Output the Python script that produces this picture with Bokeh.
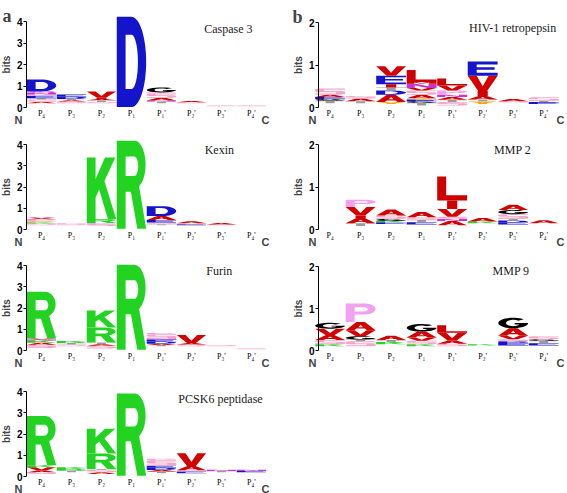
import numpy as np
from bokeh.plotting import figure
from bokeh.models import Label, FixedTicker, LinearAxis, ColumnDataSource
from bokeh.core.properties import value
from bokeh.layouts import row, column
from bokeh.embed import file_html
from bokeh.resources import INLINE

# ---------------- data ----------------
positions = [1, 2, 3, 4, 5, 6, 7, 8]
position_labels = ["P\u2084", "P\u2083", "P\u2082", "P\u2081", "P\u2081'", "P\u2082'", "P\u2083'", "P\u2084'"]

# Each stack: bottom -> top, "<letter><bits>"; "_" = residual of letters too small to see
caspase3 = [
    "_.2 A.07 S.10 T.06 E.12 P.06 N.07 Q.07 D.55",
    "_.2 S.08 A.06 T.06 D.10 E.10",
    "_.2 S.06 T.08 A.06 I.05 V.30",
    "_.02 D4.2",
    "_.2 T.08 N.05 A.12 S.20 P.05 G.23",
    "_.2 S.05 A.05",
    "_.06 S.03",
    "_.06 S.03",
]
kexin = [
    "_.2 S.08 K.05 F.05 P.10 A.05 V.04",
    "_.2 S.05 P.05",
    "_.16 S.10 P.05 R.18 K2.9",
    "_.03 R4.15",
    "_.2 T.05 S.08 E.12 A.18 D.47",
    "_.2 E.05 S.04 A.10",
    "_.2 S.03 A.08",
    "_.04",
]
furin = [
    "_.12 S.15 A.10 K.10 N.05 V.05 R2.2",
    "_.2 S.08 T.07 R.05 K.05",
    "_.1 S.12 A.08 T.08 R.70 K.80",
    "_.03 R4.0",
    "_.2 T.06 A.06 D.10 E.10 N.05 S.20 P.05",
    "_.2 S.08 A.07 V.38",
    "_.2 S.05",
    "_.06 S.03",
]
pcsk6 = [
    "_.12 S.08 A.08 V.15 K.10 R2.32",
    "_.2 T.08 R.07 K.08",
    "_.12 A.08 S.12 T.03 R.73 K1.17",
    "_.03 R3.88",
    "_.15 T.08 A.08 D.10 E.10 S.25 P.08",
    "_.15 E.08 S.07 A.20 V.60",
    "_.2 T.06 N.06",
    "_.2 E.06 N.06",
]
hiv1 = [
    "_.1 T.06 G.04 E.05 A.05 S.15",
    "_.1 T.05 A.06 S.06",
    "_.08 Y.05 A.17 D.10 T.07 I.08 E.20 V.22",
    "_.05 T.06 G.04 E.04 Y.03 A.08 S.10 V.06 N.10 M.04 L.28",
    "_.05 S.08 T.05 A.07 N.05 P.10 V.12 L.16",
    "_.08 Y.06 T.05 A.08 I.12 V.36 E.33",
    "_.12 S.03 A.05",
    "_.08 E.05 T.03 S.08",
]
mmp2 = [
    "_.02",
    "_.08 T.07 A.12 I.06 V.20 P.17",
    "_.13 E.04 K.03 G.05 S.08 A.14",
    "_.12 E.05 T.06 S.06 A.12",
    "_.1 A.10 N.05 S.05 V.18 I.20 L.57",
    "_.15 K.04 A.08",
    "_.12 E.05 D.04 T.05 S.10 G.10 A.12",
    "_.15 A.07",
]
mmp9 = [
    "_.1 K.05 S.10 A.12 V.15 G.14",
    "_.1 S.12 T.04 G.08 V.14 A.20 P.44",
    "_.15 K.05 T.05 A.10",
    "_.1 K.05 S.08 V.08 A.14 G.18",
    "_.1 S.06 A.08 V.18 L.18",
    "_.12 K.03",
    "_.12 E.06 D.04 S.05 V.08 A.18 G.25",
    "_.12 E.05 T.06 G.04 S.07",
]
left_titles = ["Caspase 3", "Kexin", "Furin", "PCSK6 peptidase"]
right_titles = ["HIV-1 retropepsin", "MMP 2", "MMP 9"]

aa_colors = {
    "D": "#1414cc", "E": "#1414cc",
    "K": "#22d322", "R": "#22d322", "H": "#7a7aff",
    "G": "#000000",
    "A": "#d40000", "V": "#d40000", "L": "#cc0000", "I": "#d40000", "M": "#d40000",
    "F": "#ff9900", "W": "#ff9900", "Y": "#ffa500",
    "P": "#f2a0f0", "S": "#f4a6c8", "T": "#9a9a9a",
    "N": "#cc33cc", "Q": "#cc33cc", "C": "#e8c800",
}

# ---------------- letter outlines (unit box) ----------------
def arc(cx, cy, rx, ry, a0, a1, n=24):
    t = np.radians(np.linspace(a0, a1, n))
    return list(zip(cx + rx * np.cos(t), cy + ry * np.sin(t)))

SHAPES = {
    "A": [[[(0, 0), (0.28, 0), (0.36, 0.22), (0.64, 0.22), (0.72, 0), (1, 0), (0.64, 1), (0.36, 1)],
           [(0.42, 0.38), (0.58, 0.38), (0.5, 0.68)]]],
    "C": [[arc(.5, .5, .5, .5, 40, 320) + arc(.5, .5, .24, .3, 320, 40)]],
    "D": [[[(0, 0), (0.5, 0)] + arc(.5, .5, .5, .5, -90, 90) + [(0, 1)],
           [(0.3, 0.2), (0.5, 0.2)] + arc(.5, .5, .22, .3, -90, 90) + [(0.3, 0.8)]]],
    "E": [[[(0, 0), (1, 0), (1, 0.2), (0.3, 0.2), (0.3, 0.42), (0.9, 0.42), (0.9, 0.6),
            (0.3, 0.6), (0.3, 0.8), (1, 0.8), (1, 1), (0, 1)]]],
    "F": [[[(0, 0), (0.3, 0), (0.3, 0.4), (0.85, 0.4), (0.85, 0.6), (0.3, 0.6), (0.3, 0.8),
            (1, 0.8), (1, 1), (0, 1)]]],
    "G": [[arc(.5, .5, .5, .5, 45, 360) + [(0.55, 0.5), (0.55, 0.35)] + arc(.5, .5, .24, .3, 330, 45)]],
    "H": [[[(0, 0), (0.3, 0), (0.3, 0.4), (0.7, 0.4), (0.7, 0), (1, 0), (1, 1), (0.7, 1),
            (0.7, 0.6), (0.3, 0.6), (0.3, 1), (0, 1)]]],
    "I": [[[(0.33, 0), (0.67, 0), (0.67, 1), (0.33, 1)]]],
    "K": [[[(0, 0), (0.3, 0), (0.3, 0.35), (0.42, 0.48), (0.72, 0), (1, 0), (0.6, 0.62),
            (0.97, 1), (0.62, 1), (0.3, 0.65), (0.3, 1), (0, 1)]]],
    "L": [[[(0, 0), (1, 0), (1, 0.22), (0.3, 0.22), (0.3, 1), (0, 1)]]],
    "M": [[[(0, 0), (0.25, 0), (0.25, 0.65), (0.42, 0.1), (0.58, 0.1), (0.75, 0.65), (0.75, 0),
            (1, 0), (1, 1), (0.7, 1), (0.5, 0.4), (0.3, 1), (0, 1)]]],
    "N": [[[(0, 0), (0.27, 0), (0.27, 0.6), (0.7, 0), (1, 0), (1, 1), (0.73, 1), (0.73, 0.4),
            (0.3, 1), (0, 1)]]],
    "P": [[[(0, 0), (0.3, 0), (0.3, 0.4), (0.62, 0.4)] + arc(.62, .7, .38, .3, -90, 90) + [(0, 1)],
           [(0.3, 0.57), (0.6, 0.57)] + arc(.6, .685, .14, .115, -90, 90) + [(0.3, 0.8)]]],
    "Q": [[arc(.5, .5, .5, .5, 0, 360), arc(.5, .5, .24, .3, 0, 360)],
          [[(0.55, 0.28), (0.78, 0.28), (1, 0), (0.78, 0)]]],
    "R": [[[(0, 0), (0.3, 0), (0.3, 0.42), (0.48, 0.42), (0.7, 0), (1, 0), (0.76, 0.48)]
           + arc(.6, .73, .38, .27, -50, 90) + [(0, 1)],
           [(0.3, 0.6), (0.6, 0.6)] + arc(.6, .71, .13, .11, -90, 90) + [(0.3, 0.82)]]],
    "S": [[[(0, 0), (0.85, 0), (1, 0.12), (1, 0.5), (0.9, 0.6), (0.3, 0.6), (0.3, 0.8), (1, 0.8),
            (1, 1), (0.15, 1), (0, 0.88), (0, 0.5), (0.1, 0.4), (0.7, 0.4), (0.7, 0.2), (0, 0.2)]]],
    "T": [[[(0.35, 0), (0.65, 0), (0.65, 0.8), (1, 0.8), (1, 1), (0, 1), (0, 0.8), (0.35, 0.8)]]],
    "V": [[[(0, 1), (0.3, 1), (0.5, 0.3), (0.7, 1), (1, 1), (0.65, 0), (0.35, 0)]]],
    "W": [[[(0, 1), (0.2, 0), (0.4, 0), (0.5, 0.55), (0.6, 0), (0.8, 0), (1, 1), (0.78, 1),
            (0.68, 0.45), (0.58, 1), (0.42, 1), (0.32, 0.45), (0.22, 1)]]],
    "Y": [[[(0.35, 0), (0.65, 0), (0.65, 0.45), (1, 1), (0.68, 1), (0.5, 0.68), (0.32, 1), (0, 1),
            (0.35, 0.45)]]],
}

LETTER_W = 0.98


def build_glyphs(stacks):
    xs, ys, cols = [], [], []
    for xc, stack in zip(positions, stacks):
        y0 = 0.0
        for tok in stack.split():
            letter, h = tok[0], float(tok[1:])
            if letter != "_":
                shape = SHAPES[letter]
                xs.append([[[xc - LETTER_W / 2 + px * LETTER_W for px, py in ring] for ring in poly] for poly in shape])
                ys.append([[[y0 + py * h for px, py in ring] for ring in poly] for poly in shape])
                cols.append(aa_colors[letter])
            y0 += h
    return xs, ys, cols


def make_panel(stacks, title, tx, ty, ymax, h, zero_px, top_px, width, xr, axis_x, n_x, c_x,
               tag=None, tag_x=0, tag_px=0):
    ppb = (zero_px - top_px) / ymax
    yr = (-(h - zero_px) / ppb, ymax + top_px / ppb)
    p = figure(width=width, height=h, x_range=xr, y_range=yr,
               output_backend="svg", toolbar_location=None,
               x_axis_location=None, y_axis_location=None,
               min_border_left=0, min_border_right=0, min_border_top=0, min_border_bottom=0)
    p.grid.visible = False
    p.outline_line_color = None
    xs, ys, cols = build_glyphs(stacks)
    p.multi_polygons(xs=xs, ys=ys, fill_color=cols, line_color=None)

    ya = LinearAxis(fixed_location=axis_x, ticker=FixedTicker(ticks=list(range(0, ymax + 1))),
                    bounds=(0, ymax), axis_label="bits")
    ya.axis_label_text_font = "Liberation Sans"
    ya.axis_label_text_font_style = "bold"
    ya.axis_label_text_font_size = "10px"
    ya.axis_label_standoff = 2
    ya.major_label_text_font = "Liberation Sans"
    ya.major_label_text_font_style = "bold"
    ya.major_label_text_font_size = "10px"
    ya.major_label_text_color = "black"
    ya.major_label_standoff = 1
    ya.major_tick_in = 0
    ya.major_tick_out = 3
    ya.minor_tick_line_color = None
    ya.axis_line_color = "black"
    p.add_layout(ya, "left")

    src = ColumnDataSource(dict(x=positions, y=[-5.5 / ppb] * len(positions), t=position_labels))
    p.text(x="x", y="y", text="t", source=src, text_font=value("Liberation Serif"),
           text_font_size="8px", text_align="center", text_baseline="middle", text_color="black")

    p.add_layout(Label(x=tx, y=ty, text=title, text_font="Liberation Serif", text_font_size="12px",
                       text_align="center", text_baseline="middle", text_color="#1a1a1a"))
    for lx, lt in ((n_x, "N"), (c_x, "C")):
        p.add_layout(Label(x=lx, y=-12 / ppb, text=lt, text_font="Liberation Sans", text_font_style="bold",
                           text_font_size="11px", text_align="center", text_baseline="middle"))
    if tag:
        p.add_layout(Label(x=tag_x, y=yr[1] - tag_px / ppb, text=tag, text_font="Liberation Serif",
                           text_font_style="bold", text_font_size="18px", text_align="left",
                           text_baseline="alphabetic"))
    return p


LEFT_W, RIGHT_W = 289, 278
row_h = [124, 122, 121, 126]
left_zero = [107, 105, 104, 109]
left_top = [21, 20, 19, 24]
right_zero = [107, 105, 104]
right_top = [22, 20, 20]

left_data = [caspase3, kexin, furin, pcsk6]
left_pos = [(7.23, 3.67), (6.93, 3.76), (6.93, 3.72), (6.97, 3.67)]
left = []
for k in range(4):
    left.append(make_panel(left_data[k], left_titles[k], left_pos[k][0], left_pos[k][1], 4,
                           row_h[k], left_zero[k], left_top[k], LEFT_W, (-0.367, 9.27), 0.5, 0.233, 8.47,
                           "a" if k == 0 else None, -0.3, 15.5))

right_data = [hiv1, mmp2, mmp9]
right_pos = [(6.98, 1.88), (6.98, 1.88), (6.93, 1.9)]
right = []
for k in range(3):
    right.append(make_panel(right_data[k], right_titles[k], right_pos[k][0], right_pos[k][1], 2,
                            row_h[k], right_zero[k], right_top[k], RIGHT_W, (-0.331, 8.78), 0.62, 0.423, 8.55,
                            "b" if k == 0 else None, -0.233, 16))

layout = row(column(*left), column(*right))
open("out.html", "w").write(file_html(layout, INLINE))
